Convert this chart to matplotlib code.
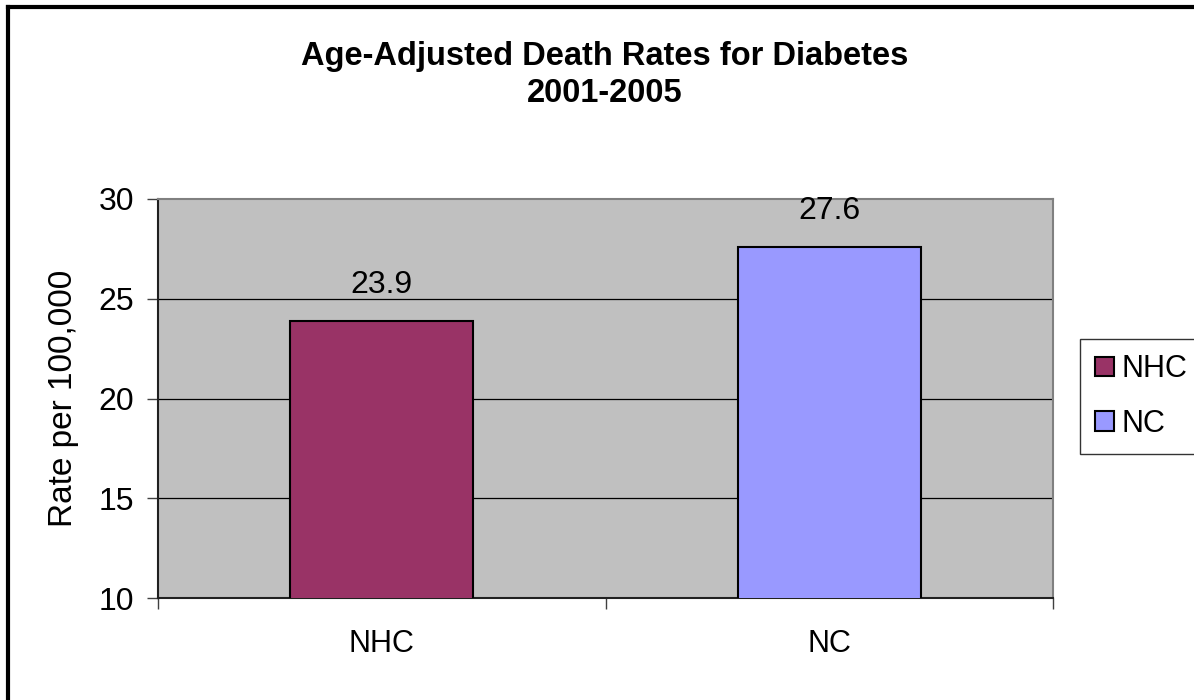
import numpy as np
import matplotlib
matplotlib.use("Agg")
import matplotlib.pyplot as plt
from matplotlib.lines import Line2D

plt.rcParams['font.family'] = ['Liberation Sans', 'DejaVu Sans']

categories = ["NHC", "NC"]
rates = [23.9, 27.6]
colors = ["#993366", "#9999FF"]
yticks = [10, 15, 20, 25, 30]

fig = plt.figure(figsize=(11.94, 7.0), dpi=100)
ax = fig.add_axes([158/1194, 1 - 598/700, (1053-158)/1194, (598-199)/700])
ax.set_facecolor("#C0C0C0")

x = np.arange(len(categories))
bars = ax.bar(x, rates, width=0.41, color=colors, edgecolor="black",
              linewidth=1.5, zorder=3, label=categories)
for xi, v in zip(x, rates):
    ax.text(xi, v + 1.4, f"{v:.1f}", ha="center", va="baseline", fontsize=23, zorder=4)

ax.set_xlim(-0.5, 1.5)
ax.set_ylim(10, 30)
ax.set_yticks(yticks)
ax.set_yticklabels([str(t) for t in yticks], fontsize=23)
for t in yticks[1:-1]:
    ax.axhline(t, color="black", linewidth=0.9, zorder=1)

# category labels centered, ticks between categories
ax.set_xticks([-0.5, 0.5, 1.5])
ax.set_xticklabels([])
ax.set_xticks(x, minor=True)
ax.set_xticklabels(categories, minor=True, fontsize=22)
ax.tick_params(axis="x", which="minor", length=0, pad=22)
ax.tick_params(axis="x", which="major", length=8, width=1, color="#404040")
ax.tick_params(axis="y", length=8, width=1, color="#404040", pad=9)

ax.spines["left"].set_color("#202020")
ax.spines["bottom"].set_color("#202020")
ax.spines["top"].set_color("#808080")
ax.spines["right"].set_color("#808080")
for s in ax.spines.values():
    s.set_linewidth(1.5)

ax.set_ylabel("Rate per 100,000", fontsize=24, labelpad=14)

fig.text(605/1194, 1 - 56/700, "Age-Adjusted Death Rates for Diabetes", ha="center",
         va="center", fontsize=23.5, fontweight="bold")
fig.text(605/1194, 1 - 94/700, "2001-2005", ha="center", va="center",
         fontsize=23.5, fontweight="bold")

leg = fig.legend(handles=bars.patches, labels=categories, loc="upper left",
                 bbox_to_anchor=(1080/1194, 1 - 339/700), fontsize=22,
                 frameon=True, fancybox=False, handlelength=0.6, handleheight=0.6,
                 handletextpad=0.25, borderpad=0.5, labelspacing=0.8,
                 borderaxespad=0)
leg.get_frame().set_edgecolor("black")
leg.get_frame().set_linewidth(1.0)

# outer chart border (left and top visible)
fig.add_artist(Line2D([8/1194, 8/1194], [0, 1 - 7/700], transform=fig.transFigure,
                      color="black", linewidth=3))
fig.add_artist(Line2D([8/1194, 1], [1 - 7/700, 1 - 7/700], transform=fig.transFigure,
                      color="black", linewidth=3))

fig.savefig("out.png", dpi=100)
